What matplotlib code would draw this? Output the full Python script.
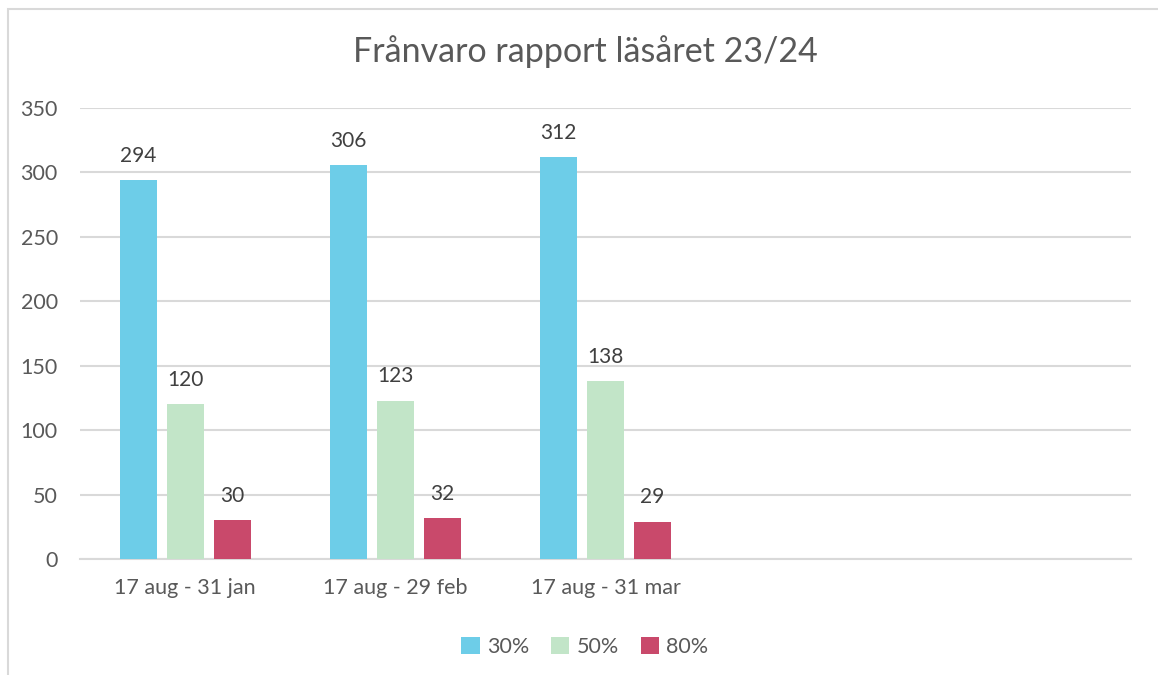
import matplotlib
matplotlib.use('Agg')
import matplotlib.pyplot as plt
from matplotlib.patches import Rectangle
import numpy as np

# data
categories = ["17 aug - 31 jan", "17 aug - 29 feb", "17 aug - 31 mar", "", ""]
series_names = ["30%", "50%", "80%"]
vals_30 = [294, 306, 312]
vals_50 = [120, 123, 138]
vals_80 = [30, 32, 29]
colors = ["#6DCDE8", "#C2E5C8", "#C9496B"]

plt.rcParams['font.family'] = ['Lato', 'DejaVu Sans']

fig = plt.figure(figsize=(11.58, 6.75), dpi=100)
ax = fig.add_axes([80 / 1158, 1 - 559 / 675, (1131 - 80) / 1158, 451 / 675])

# chart border (left/top visible)
fig.patches.append(Rectangle((8 / 1158, -0.05), 1.2, 1 - 9 / 675 + 0.05,
                             transform=fig.transFigure, fill=False,
                             edgecolor="#D9D9D9", linewidth=1.5))

x = np.arange(len(categories))
width = 0.176
offset = 0.224
for i, (name, vals) in enumerate(zip(series_names, [vals_30, vals_50, vals_80])):
    pos = x[:len(vals)] + (i - 1) * offset
    bars = ax.bar(pos, vals, width=width, color=colors[i], label=name, zorder=3)
    for b, v in zip(bars, vals):
        ax.text(b.get_x() + b.get_width() / 2, v + 11, str(v), ha='center', va='bottom',
                fontsize=15, color="#404040")

ax.set_xlim(-0.5, len(categories) - 0.5)
ax.set_ylim(0, 350)
ax.set_yticks(range(0, 351, 50))
ax.set_xticks(x)
ax.set_xticklabels(categories)
ax.grid(axis='y', color="#D9D9D9", linewidth=1.5, zorder=0)
for s in ['top', 'right', 'left']:
    ax.spines[s].set_visible(False)
ax.spines['bottom'].set_color("#D9D9D9")
ax.spines['bottom'].set_linewidth(1.5)
ax.tick_params(axis='both', length=0, labelsize=15.5, labelcolor="#595959")
ax.tick_params(axis='y', pad=16)
ax.tick_params(axis='x', pad=14)

fig.text(585 / 1158, 1 - 52 / 675, "Frånvaro rapport läsåret 23/24", ha='center', va='center',
         fontsize=24.5, color="#595959")

fig.legend(loc='center', bbox_to_anchor=(585 / 1158, 1 - 647 / 675), ncol=3, frameon=False,
           fontsize=15.5, labelcolor="#595959", handlelength=0.85, handleheight=0.85,
           handletextpad=0.35, columnspacing=1.0)

fig.savefig("out.png", dpi=100)
